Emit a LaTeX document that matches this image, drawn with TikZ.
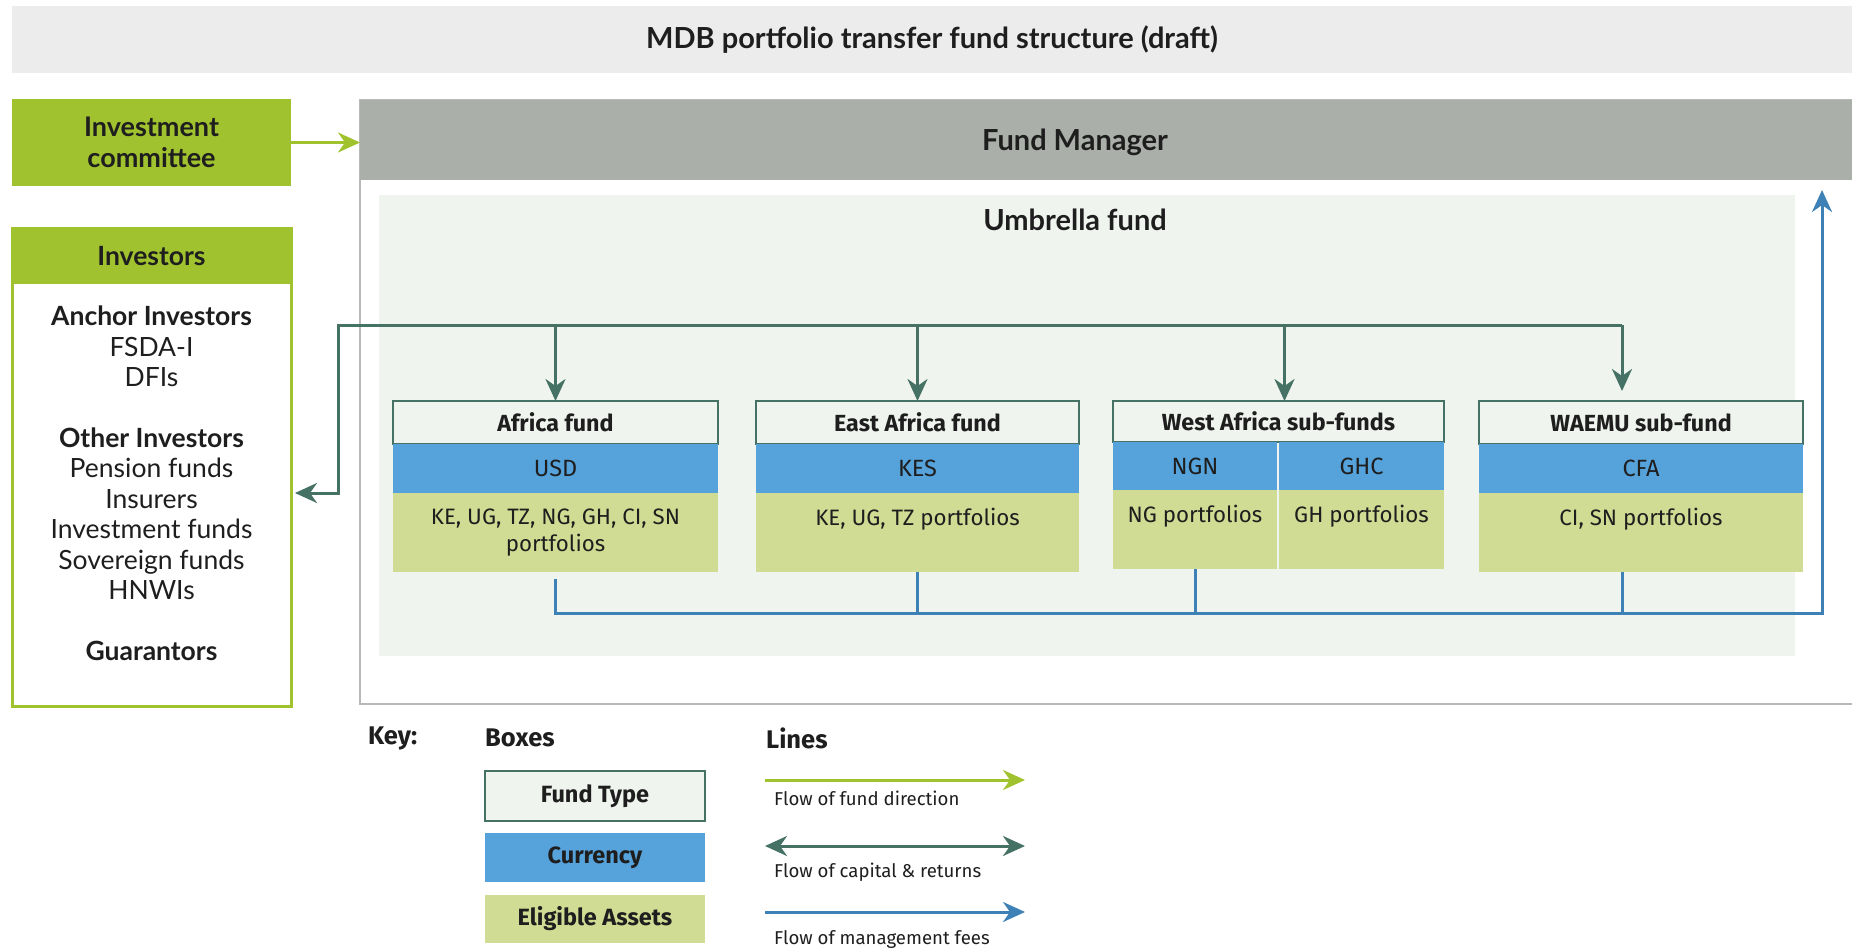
\documentclass[tikz,border=0pt]{standalone}
\usepackage{fontspec}
\setmainfont{Lato}
\newfontfamily\condfont{Fira Sans}
\usetikzlibrary{arrows.meta,positioning,calc}

\definecolor{titleGrey}{RGB}{236,236,236}
\definecolor{icGreen}{RGB}{161,194,47}
\definecolor{fmGrey}{RGB}{170,175,169}
\definecolor{frameGrey}{RGB}{182,185,182}
\definecolor{umbFill}{RGB}{239,244,238}
\definecolor{capTeal}{RGB}{70,114,102}
\definecolor{curBlue}{RGB}{86,163,219}
\definecolor{astGreen}{RGB}{208,219,147}
\definecolor{feeBlue}{RGB}{62,129,182}
\definecolor{inkDark}{RGB}{30,30,30}

\begin{document}
\begin{tikzpicture}[x=1pt,y=-1pt,
    every node/.style={text=inkDark},
    rect/.style={anchor=north west, inner sep=0pt, outer sep=0pt},
    hdr/.style={rect, draw=capTeal, line width=2.5pt, fill=umbFill, minimum height=43pt,
      font=\condfont\bfseries\fontsize{23.3}{27}\selectfont},
    cur/.style={rect, fill=curBlue, minimum height=49pt, font=\condfont\fontsize{23.5}{27}\selectfont},
    ast/.style={rect, fill=astGreen, minimum height=79pt, align=center,
      font=\condfont\fontsize{22.3}{27}\selectfont},
    asttop/.style={ast, text height=32pt, text depth=47pt},
    keyhead/.style={anchor=west, inner sep=0pt, font=\condfont\bfseries\fontsize{25.5}{30}\selectfont},
    keybox/.style={font=\condfont\bfseries\fontsize{23.5}{27}\selectfont},
    keytxt/.style={anchor=west, inner sep=0pt, font=\condfont\fontsize{18.6}{22}\selectfont},
    bighead/.style={font=\bfseries\fontsize{29}{34}\selectfont},
    capline/.style={draw=capTeal, line width=3pt},
    feeline/.style={draw=feeBlue, line width=3pt},
    fundline/.style={draw=icGreen, line width=3pt},
    >={Stealth[length=22pt,width=20pt,inset=7pt]}]
    \useasboundingbox (0,0) rectangle (1852,950);
    % Title
    \node[rect, bighead, fill=titleGrey, minimum width=1840pt, minimum height=67pt] (title) at (12,6)
      {MDB portfolio transfer fund structure (draft)};
    % Investment committee
    \node[rect, fill=icGreen, minimum width=279pt, minimum height=87pt, align=center,
      font=\bfseries\fontsize{27}{31}\selectfont] (ic) at (12,99) {Investment\\committee};
    % Fund manager frame
    \node[rect, draw=frameGrey, line width=2.5pt, minimum width=1500pt, minimum height=604pt] (fmframe) at (360,100) {};
    \node[rect, fill=fmGrey, minimum width=1500pt, minimum height=80pt] (fm) at (360,100) {};
    \node[anchor=base, bighead] (fmtext) at (1075,150) {Fund Manager};
    % Umbrella fund
    \node[rect, fill=umbFill, minimum width=1416pt, minimum height=461pt] (umb) at (379,195) {};
    \node[anchor=base, bighead] (umbtext) at (1075,230) {Umbrella fund};
    % Investors
    \node[rect, draw=icGreen, line width=3pt, minimum width=279pt, minimum height=478pt] (inv) at (12,228) {};
    \node[rect, fill=icGreen, minimum width=279pt, minimum height=56pt,
      font=\bfseries\fontsize{26.5}{31}\selectfont] (invh) at (12,228) {Investors};
    \node[anchor=north, inner sep=0pt, align=center, font=\fontsize{26.5}{30.4}\selectfont] (invtxt) at (151.5,306)
      {\textbf{Anchor Investors}\\FSDA-I\\DFIs\\[30.4pt]\textbf{Other Investors}\\Pension funds\\Insurers\\Investment funds\\Sovereign funds\\HNWIs\\[30.4pt]\textbf{Guarantors}};
    % Africa fund
    \node[hdr, minimum width=325pt] (af) at (393,401) {Africa fund};
    \node[cur, minimum width=325pt] (afcur) at (af.south west) {USD};
    \node[ast, minimum width=325pt] (afast) at (afcur.south west) {KE, UG, TZ, NG, GH, CI, SN\\portfolios};
    % East Africa fund
    \node[hdr, minimum width=323pt] (ea) at (756,401) {East Africa fund};
    \node[cur, minimum width=323pt] (eacur) at (ea.south west) {KES};
    \node[asttop, minimum width=323pt] (eaast) at (eacur.south west) {KE, UG, TZ portfolios};
    % West Africa sub-funds
    \node[hdr, minimum width=331pt, minimum height=41pt] (wa) at (1113,401) {West Africa sub-funds};
    \node[cur, minimum width=164pt, minimum height=48pt] (wangcur) at (wa.south west) {NGN};
    \node[cur, minimum width=165pt, minimum height=48pt] (waghcur) at ([xshift=2pt]wangcur.north east) {GHC};
    \node[asttop, minimum width=164pt] (wangast) at (wangcur.south west) {NG portfolios};
    \node[asttop, minimum width=165pt] (waghast) at (waghcur.south west) {GH portfolios};
    % WAEMU sub-fund
    \node[hdr, minimum width=324pt] (wm) at (1479,401) {WAEMU sub-fund};
    \node[cur, minimum width=324pt] (wmcur) at (wm.south west) {CFA};
    \node[asttop, minimum width=324pt] (wmast) at (wmcur.south west) {CI, SN portfolios};
    % Flow of fund direction
    \draw[fundline,->] (ic.east) -- (ic.east -| fm.west);
    % Flow of capital & returns
    \coordinate (hub) at (338,325);
    \coordinate (capin) at (295,493);
    \coordinate (wain) at ([xshift=6pt]wa.north);
    \coordinate (wmin) at (1622,391);
    \draw[capline,->] (hub -| wmin) -- (hub) |- (capin);
    \draw[capline,->] (af.north |- hub) -- (af.north);
    \draw[capline,->] (ea.north |- hub) -- (ea.north);
    \draw[capline,->] (wain |- hub) -- (wain);
    \draw[capline,->] (wmin |- hub) -- (wmin);
    % Flow of management fees
    \coordinate (feeturn) at (1822,613);
    \draw[feeline,->,shorten <=7pt,shorten >=10pt] (afast.south) |- (feeturn) -- (feeturn |- fm.south);
    \draw[feeline] (eaast.south) -- (eaast.south |- feeturn);
    \draw[feeline] (wangast.south) -- (wangast.south |- feeturn);
    \draw[feeline] (wmast.south -| wmin) -- (wmin |- feeturn);
    % Key
    \node[keyhead] (key) at (368,738) {Key:};
    \node[keyhead] (keyboxes) at (485,738) {Boxes};
    \node[keyhead] (keylines) at (766,738) {Lines};
    \node[hdr, keybox, minimum width=220pt, minimum height=50pt] (kft) at (485,771) {Fund Type};
    \node[cur, keybox, minimum width=220pt, minimum height=49pt] (kcur) at (485,833) {Currency};
    \node[ast, keybox, minimum width=220pt, minimum height=48pt] (kast) at (485,895) {Eligible Assets};
    \coordinate (kfundA) at (765,780);
    \coordinate (kfundB) at (1025,780);
    \draw[fundline,->] (kfundA) -- (kfundB);
    \node[keytxt] (kfundtxt) at (774,798) {Flow of fund direction};
    \coordinate (kcapA) at (765,846);
    \coordinate (kcapB) at (1025,846);
    \draw[capline,<->] (kcapA) -- (kcapB);
    \node[keytxt] (kcaptxt) at (774,872) {Flow of capital \& returns};
    \coordinate (kfeeA) at (765,912);
    \coordinate (kfeeB) at (1025,912);
    \draw[feeline,->] (kfeeA) -- (kfeeB);
    \node[keytxt] (kfeetxt) at (774,939) {Flow of management fees};
\end{tikzpicture}
\end{document}
